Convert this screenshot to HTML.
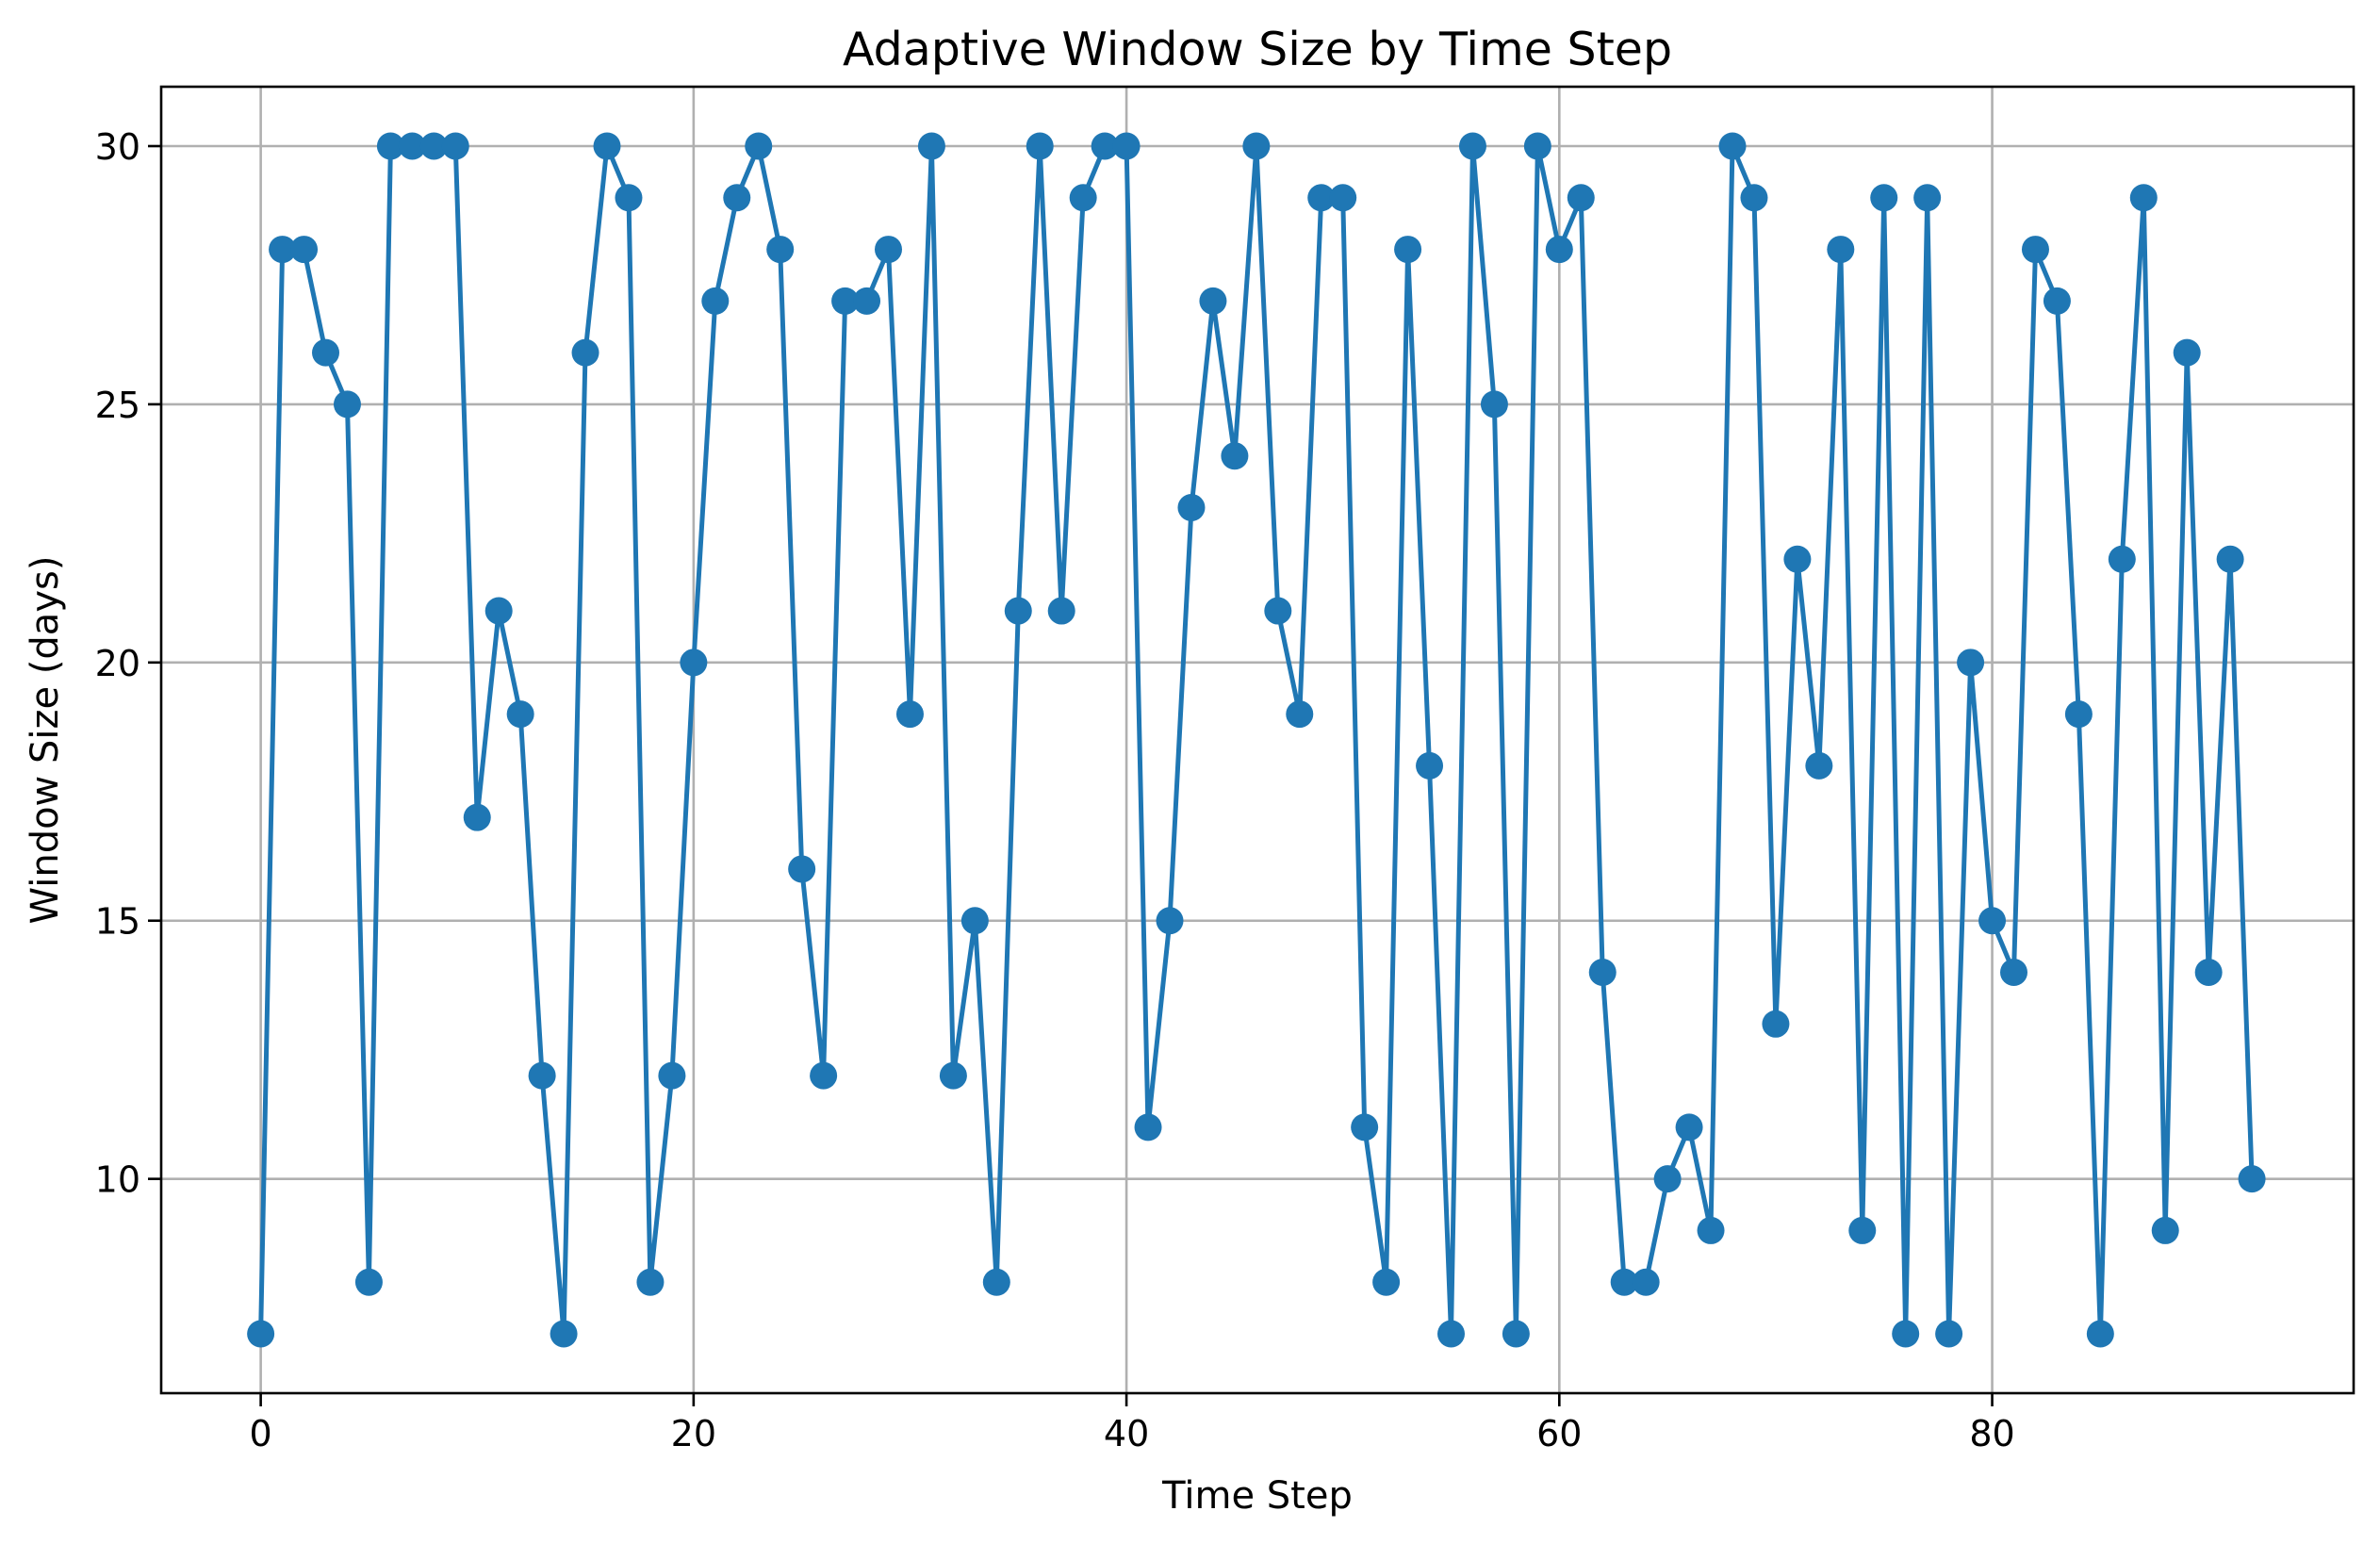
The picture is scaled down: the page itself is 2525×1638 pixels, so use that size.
<!DOCTYPE html>
<html><head><meta charset="utf-8"><style>
html,body{margin:0;padding:0;background:#fff;}
svg{display:block;font-family:"DejaVu Sans","Liberation Sans",sans-serif;}
</style></head><body>
<svg id="chart" width="2525" height="1638" viewBox="0 0 2525 1638">
<rect width="2525" height="1638" fill="#fff"/>
<g id="grid"></g>
<g id="series"></g>
<rect x="171" y="92" width="2326" height="1386" fill="none" stroke="#000" stroke-width="2.6"/>
<g id="ticks"></g>
<text x="1334" y="69" font-size="49" text-anchor="middle">Adaptive Window Size by Time Step</text>
<text x="1334" y="1600" font-size="40" text-anchor="middle">Time Step</text>
<text transform="translate(61,785) rotate(-90)" font-size="40" text-anchor="middle">Window Size (days)</text>
</svg>
<script>
const windowSizes=[7,28,28,26,25,8,30,30,30,30,17,21,19,12,7,26,30,29,8,12,20,27,29,30,28,16,12,27,27,28,19,30,12,15,8,21,30,21,29,30,30,11,15,23,27,24,30,21,19,29,29,11,8,28,18,7,30,25,7,30,28,29,14,8,8,10,11,9,30,29,13,22,18,28,9,29,7,29,7,20,15,14,28,27,19,7,22,29,9,26,14,22,10];
const xTicks=[0,20,40,60,80];
const yTicks=[10,15,20,25,30];
const NS="http://www.w3.org/2000/svg";
const L=171,R=2497,T=92,B=1478;
const xMin=-4.6,xMax=96.7,yMin=5.85,yMax=31.15;
function xs(v){return L+(v-xMin)/(xMax-xMin)*(R-L);}
function ys(v){return B-(v-yMin)/(yMax-yMin)*(B-T);}
function mk(tag,attrs,parent){const e=document.createElementNS(NS,tag);for(const k in attrs)e.setAttribute(k,attrs[k]);parent.appendChild(e);return e;}
const grid=document.getElementById('grid'),ticks=document.getElementById('ticks'),ser=document.getElementById('series');
xTicks.forEach(t=>{
  const x=xs(t);
  const g=mk('line',{x1:x,x2:x,y1:T,y2:B,stroke:'#b0b0b0','stroke-width':2.6},grid);
  
  
  const tk=mk('line',{x1:x,x2:x,y1:B,y2:B+14,stroke:'#000','stroke-width':2.6},ticks);
  
  
  const lb=mk('text',{x:x,y:B+56,'font-size':38,'text-anchor':'middle'},ticks);
  lb.textContent=t;
  
  
});
yTicks.forEach(t=>{
  const y=ys(t);
  const g=mk('line',{x1:L,x2:R,y1:y,y2:y,stroke:'#b0b0b0','stroke-width':2.6},grid);
  
  
  const tk=mk('line',{x1:L-14,x2:L,y1:y,y2:y,stroke:'#000','stroke-width':2.6},ticks);
  
  
  const lb=mk('text',{x:L-22,y:y+14,'font-size':38,'text-anchor':'end'},ticks);
  lb.textContent=t;
  
  
});
const pts=windowSizes.map((v,i)=>xs(i).toFixed(1)+','+ys(v).toFixed(1)).join(' ');
const line=mk('polyline',{points:pts,fill:'none',stroke:'#1f77b4','stroke-width':5,'stroke-linejoin':'round'},ser);


windowSizes.forEach((v,i)=>{
  const c=mk('circle',{cx:xs(i),cy:ys(v),r:14.5,fill:'#1f77b4'},ser);
  
  
});
</script>
</body></html>
